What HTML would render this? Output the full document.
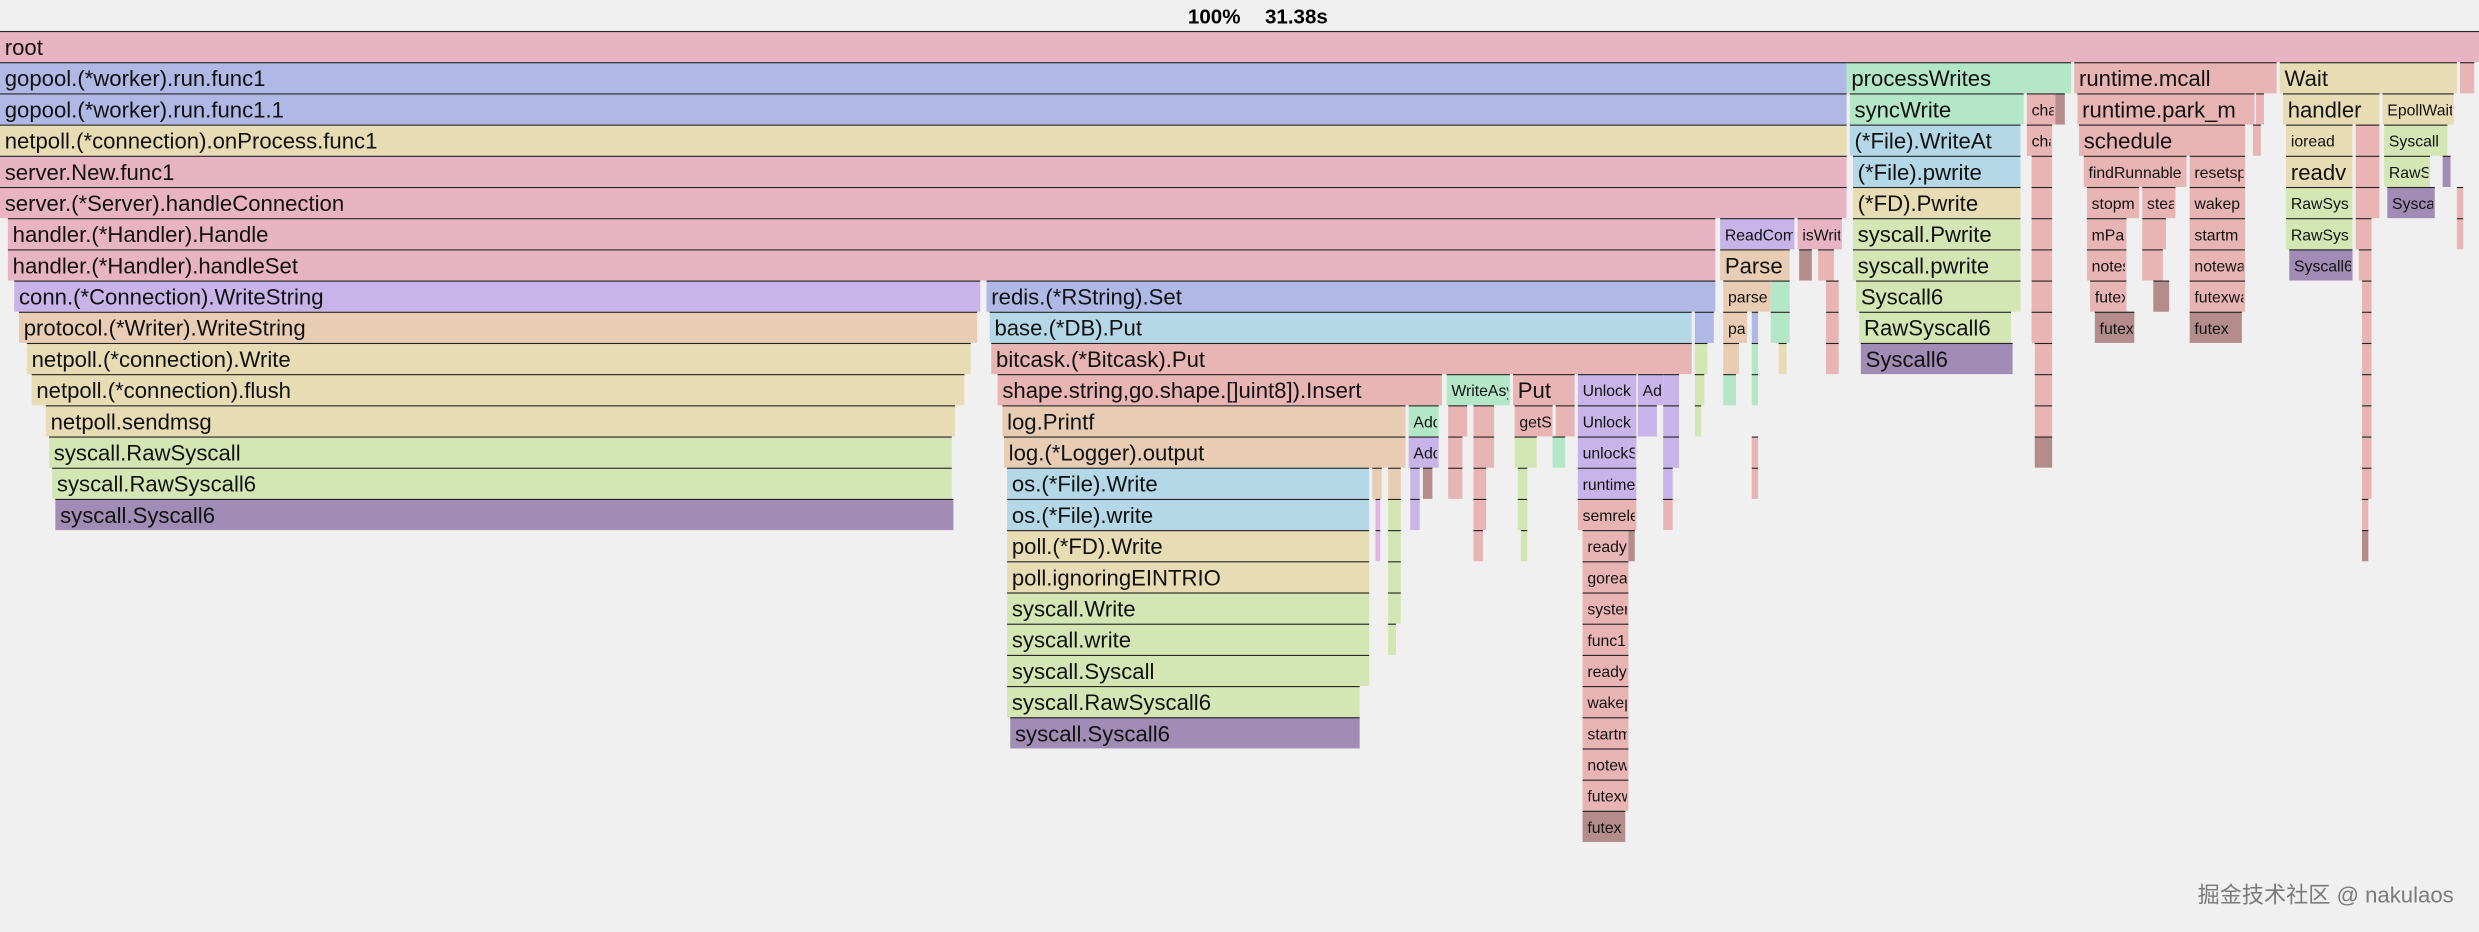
<!DOCTYPE html>
<html><head><meta charset="utf-8"><style>
html,body{margin:0;padding:0;background:#f0f0f0;}
svg{display:block;font-family:"Liberation Sans","Noto Sans CJK SC",sans-serif;}
</style></head><body>
<svg id="s" width="2479" height="932" viewBox="0 0 1568 589.5" xmlns="http://www.w3.org/2000/svg">
<rect width="1568" height="589.5" fill="#f0f0f0"/>
<text x="768" y="15" font-size="13" font-weight="bold" text-anchor="middle">100%</text>
<text x="820" y="15" font-size="13" font-weight="bold" text-anchor="middle">31.38s</text>
<text x="1552" y="571" font-size="14" fill="#7a7a7a" text-anchor="end">掘金技术社区 @ nakulaos</text>
</svg>
<script>
var P='#e8b4c4',R='#e8b4b4',B='#b0b8e6',G='#b4e6c8',T='#e8dcb4',LB='#b4d8e8',YG='#d4e6b4',PU='#a08cb4',VI='#c8b4e8',OR='#e8cdb4',BR='#b48c8c';
var rows=[
[[0,1568,P,'root']],
[[0,1168,B,'gopool.(*worker).run.func1'],[1168,1310,G,'processWrites'],[1312,1440,R,'runtime.mcall'],[1442,1554,T,'Wait'],[1556,1565,R,'']],
[[0,1168,B,'gopool.(*worker).run.func1.1'],[1170,1280,G,'syncWrite'],[1282,1300,R,'cha'],[1300,1306,BR,''],[1314,1426,R,'runtime.park_m'],[1427,1432,R,''],[1444,1505,T,'handler'],[1507,1552,T,'EpollWait']],
[[0,1168,T,'netpoll.(*connection).onProcess.func1'],[1170,1278,LB,'(*File).WriteAt'],[1282,1298,R,'cha'],[1315,1420,R,'schedule'],[1425,1430,R,''],[1446,1488,T,'ioread'],[1490,1505,R,''],[1508,1548,YG,'Syscall']],
[[0,1168,P,'server.New.func1'],[1172,1278,LB,'(*File).pwrite'],[1285,1298,R,''],[1318,1383,R,'findRunnable'],[1385,1420,R,'resetsp'],[1446,1488,T,'readv'],[1490,1505,R,''],[1508,1537,YG,'RawS'],[1545,1550,PU,'']],
[[0,1168,P,'server.(*Server).handleConnection'],[1172,1278,T,'(*FD).Pwrite'],[1285,1298,R,''],[1320,1353,R,'stopm'],[1355,1376,R,'stea'],[1385,1420,R,'wakep'],[1446,1488,YG,'RawSys'],[1490,1505,R,''],[1510,1540,PU,'Sysca'],[1554,1558,R,'']],
[[5,1085,P,'handler.(*Handler).Handle'],[1088,1135,VI,'ReadCom'],[1137,1165,P,'isWrite'],[1172,1278,YG,'syscall.Pwrite'],[1285,1298,R,''],[1320,1345,R,'mPark'],[1355,1370,R,''],[1385,1420,R,'startm'],[1446,1488,YG,'RawSys'],[1490,1500,R,''],[1554,1558,R,'']],
[[5,1085,P,'handler.(*Handler).handleSet'],[1088,1132,OR,'Parse'],[1138,1146,BR,''],[1150,1160,R,''],[1172,1278,YG,'syscall.pwrite'],[1285,1298,R,''],[1320,1345,R,'notesl'],[1355,1368,R,''],[1385,1420,R,'notewa'],[1448,1488,PU,'Syscall6'],[1492,1500,R,'']],
[[9,620,VI,'conn.(*Connection).WriteString'],[624,1085,B,'redis.(*RString).Set'],[1090,1120,OR,'parse'],[1120,1132,G,''],[1155,1163,R,''],[1174,1278,YG,'Syscall6'],[1285,1298,R,''],[1322,1345,R,'futex'],[1362,1372,BR,''],[1385,1420,R,'futexwa'],[1494,1500,R,'']],
[[12,618,OR,'protocol.(*Writer).WriteString'],[626,1070,LB,'base.(*DB).Put'],[1072,1084,B,''],[1090,1105,OR,'par'],[1108,1112,B,''],[1120,1132,G,''],[1155,1163,R,''],[1176,1272,YG,'RawSyscall6'],[1285,1298,R,''],[1325,1350,BR,'futex'],[1385,1418,BR,'futex'],[1494,1500,R,'']],
[[17,614,T,'netpoll.(*connection).Write'],[627,1070,R,'bitcask.(*Bitcask).Put'],[1072,1080,YG,''],[1090,1100,OR,''],[1108,1112,G,''],[1125,1130,T,''],[1155,1163,R,''],[1177,1273,PU,'Syscall6'],[1287,1298,R,''],[1494,1500,R,'']],
[[20,610,T,'netpoll.(*connection).flush'],[631,912,R,'shape.string,go.shape.[]uint8]).Insert'],[915,955,G,'WriteAsy'],[957,996,R,'Put'],[998,1035,VI,'Unlock'],[1036,1052,VI,'Add'],[1052,1062,VI,''],[1072,1078,YG,''],[1090,1098,G,''],[1108,1112,G,''],[1287,1298,R,''],[1494,1500,R,'']],
[[29,604,T,'netpoll.sendmsg'],[634,889,OR,'log.Printf'],[891,910,G,'Add'],[916,928,R,''],[932,945,R,''],[958,982,R,'getS'],[984,996,R,''],[998,1035,VI,'Unlock'],[1036,1048,VI,''],[1052,1062,VI,''],[1072,1076,YG,''],[1287,1298,R,''],[1494,1500,R,'']],
[[31,602,YG,'syscall.RawSyscall'],[635,889,OR,'log.(*Logger).output'],[891,910,VI,'Add'],[916,925,R,''],[932,945,R,''],[958,972,YG,''],[982,990,G,''],[998,1035,VI,'unlockS'],[1052,1062,VI,''],[1108,1112,R,''],[1287,1298,BR,''],[1494,1500,R,'']],
[[33,602,YG,'syscall.RawSyscall6'],[637,866,LB,'os.(*File).Write'],[868,874,OR,''],[878,886,OR,''],[892,898,VI,''],[900,906,BR,''],[916,925,R,''],[932,940,R,''],[960,966,YG,''],[998,1035,VI,'runtime'],[1052,1058,VI,''],[1108,1112,R,''],[1494,1500,R,'']],
[[35,603,PU,'syscall.Syscall6'],[637,866,LB,'os.(*File).write'],[870,873,'#e0b4e8',''],[878,886,YG,''],[892,898,VI,''],[932,940,R,''],[960,966,YG,''],[998,1035,R,'semrele'],[1052,1058,R,''],[1494,1498,R,'']],
[[637,866,T,'poll.(*FD).Write'],[870,873,'#e0b4e8',''],[878,886,YG,''],[932,938,R,''],[962,966,YG,''],[1001,1030,R,'ready'],[1030,1034,BR,''],[1494,1498,BR,'']],
[[637,866,T,'poll.ignoringEINTRIO'],[878,886,YG,''],[1001,1030,R,'gorea']],
[[637,866,YG,'syscall.Write'],[878,886,YG,''],[1001,1030,R,'syster']],
[[637,866,YG,'syscall.write'],[878,883,YG,''],[1001,1030,R,'func1']],
[[637,866,YG,'syscall.Syscall'],[1001,1030,R,'ready']],
[[637,860,YG,'syscall.RawSyscall6'],[1001,1030,R,'wakep']],
[[639,860,PU,'syscall.Syscall6'],[1001,1030,R,'startm']],
[[1001,1030,R,'notew']],
[[1001,1030,R,'futexw']],
[[1001,1028,BR,'futex']]
];
var cv=document.createElement('canvas').getContext('2d');
cv.font='14px "Liberation Sans", sans-serif';
var s=document.getElementById('s'),h='';
var rh=19.73,top0=19.6;
rows.forEach(function(r,i){
 var y=top0+i*rh;
 r.forEach(function(b){
  var w=b[1]-b[0];
  h+='<rect x="'+b[0]+'" y="'+y+'" width="'+w+'" height="'+rh+'" fill="'+b[2]+'"/>';
  h+='<rect x="'+b[0]+'" y="'+y+'" width="'+w+'" height="0.7" fill="#222"/>';
  if(b[3]){
   var fits=cv.measureText(b[3]).width+4<=w;
   var fs=(fits||w>=70)?14:10;
   h+='<svg x="'+(b[0]+2)+'" y="'+y+'" width="'+Math.max(w-3,1)+'" height="'+rh+'"><text x="1" y="'+(fs==14?15.2:14)+'" font-size="'+fs+'" fill="#111">'+b[3].replace(/&/g,'&amp;')+'</text></svg>';
  }
 });
});
s.insertAdjacentHTML('beforeend',h);
</script>
</body></html>
